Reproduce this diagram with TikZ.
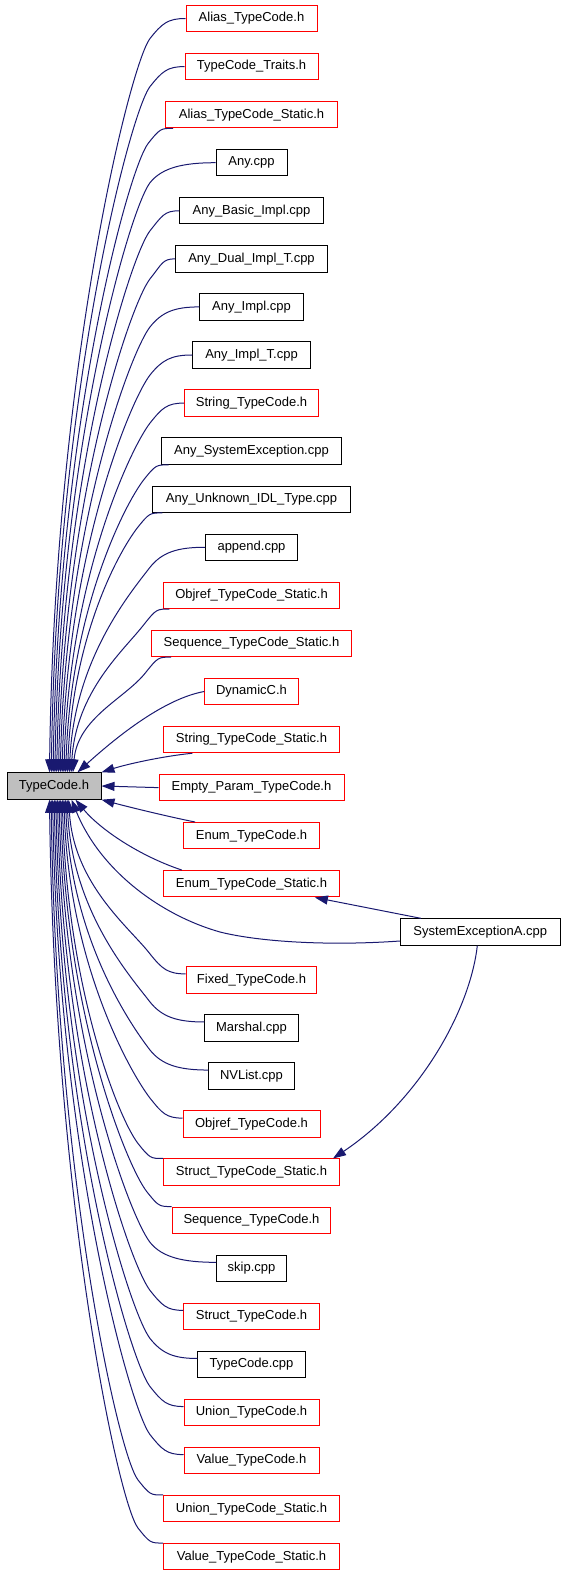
\documentclass[tikz,border=0pt]{standalone}
\usepackage{fontspec}
\setmainfont{Liberation Sans}
\usetikzlibrary{arrows.meta,calc}
\definecolor{navyc}{HTML}{191970}
\definecolor{redc}{HTML}{FF0000}
\definecolor{grayc}{HTML}{BFBFBF}
\tikzset{
 base/.style={draw, line width=1pt, minimum height=26.4pt, inner sep=0pt, font=\fontsize{13}{15}\selectfont, fill=white},
 redbox/.style={base, draw=redc},
 blkbox/.style={base, draw=black},
 dep/.style={draw=navyc, line width=1pt, -{Triangle[length=13pt,width=9pt]}},
}
\newcommand\nd[4]{\node[#3, minimum width=#2pt] (n#1) at (251.5,{18.5+48.07*#1}) {#4};}
\newcommand\tcedge[5]{%
 \draw[dep] let \p1=(#1), \p2=(#2), \p3=({#4},{\y1+(#3)*(#5)}) in
 (\p1) .. controls ({0.5*(\x1+\x3)},\y1) and ({\x3+12pt},{\y3-(#3)*15pt}) .. (\p3)
 .. controls ({\x3-20pt},{\y3+(#3)*26pt}) and ({\x2+5pt},{\y2-(#3)*0.55*abs(\y2-\y3)}) .. (\p2);}
\begin{document}
\begin{tikzpicture}[x=1pt,y=-1pt]
\useasboundingbox (0,0) rectangle (565,1573);
\node[base, fill=grayc, draw=black, minimum width=94pt] (tc) at (54,786) {TypeCode.h};
\nd{0}{131}{redbox}{Alias\_TypeCode.h}
\nd{1}{133}{redbox}{TypeCode\_Traits.h}
\nd{2}{171.6}{redbox}{Alias\_TypeCode\_Static.h}
\nd{3}{71}{blkbox}{Any.cpp}
\nd{4}{144}{blkbox}{Any\_Basic\_Impl.cpp}
\nd{5}{152}{blkbox}{Any\_Dual\_Impl\_T.cpp}
\nd{6}{103.4}{blkbox}{Any\_Impl.cpp}
\nd{7}{117.4}{blkbox}{Any\_Impl\_T.cpp}
\nd{8}{134}{redbox}{String\_TypeCode.h}
\nd{9}{180.6}{blkbox}{Any\_SystemException.cpp}
\nd{10}{197.4}{blkbox}{Any\_Unknown\_IDL\_Type.cpp}
\nd{11}{92}{blkbox}{append.cpp}
\nd{12}{175.4}{redbox}{Objref\_TypeCode\_Static.h}
\nd{13}{200}{redbox}{Sequence\_TypeCode\_Static.h}
\nd{14}{93.4}{redbox}{DynamicC.h}
\nd{15}{175.4}{redbox}{String\_TypeCode\_Static.h}
\nd{16}{185}{redbox}{Empty\_Param\_TypeCode.h}
\nd{17}{136}{redbox}{Enum\_TypeCode.h}
\nd{18}{176.3}{redbox}{Enum\_TypeCode\_Static.h}
\node[blkbox, minimum width=160pt] (n19) at (480.3,932) {SystemExceptionA.cpp};
\nd{20}{130.6}{redbox}{Fixed\_TypeCode.h}
\nd{21}{93.4}{blkbox}{Marshal.cpp}
\nd{22}{85.4}{blkbox}{NVList.cpp}
\nd{23}{137}{redbox}{Objref\_TypeCode.h}
\nd{24}{176}{redbox}{Struct\_TypeCode\_Static.h}
\nd{25}{158.6}{redbox}{Sequence\_TypeCode.h}
\nd{26}{70}{blkbox}{skip.cpp}
\nd{27}{135.4}{redbox}{Struct\_TypeCode.h}
\nd{28}{107.4}{blkbox}{TypeCode.cpp}
\nd{29}{135}{redbox}{Union\_TypeCode.h}
\nd{30}{135}{redbox}{Value\_TypeCode.h}
\nd{31}{176}{redbox}{Union\_TypeCode\_Static.h}
\nd{32}{176}{redbox}{Value\_TypeCode\_Static.h}
% upper edges
\tcedge{n0.west}{[xshift=43pt]tc.north west}{-1}{150pt}{20pt}
\tcedge{n1.west}{[xshift=44.8pt]tc.north west}{-1}{150pt}{20pt}
\tcedge{[xshift=8pt]n2.south west}{[xshift=46.6pt]tc.north west}{-1}{\x1-25pt}{15pt}
\tcedge{n3.west}{[xshift=48.4pt]tc.north west}{-1}{150pt}{20pt}
\tcedge{n4.west}{[xshift=50.2pt]tc.north west}{-1}{150pt}{20pt}
\tcedge{n5.west}{[xshift=52pt]tc.north west}{-1}{150pt}{20pt}
\tcedge{n6.west}{[xshift=53.8pt]tc.north west}{-1}{150pt}{20pt}
\tcedge{n7.west}{[xshift=55.6pt]tc.north west}{-1}{150pt}{20pt}
\tcedge{n8.west}{[xshift=57.4pt]tc.north west}{-1}{150pt}{20pt}
\tcedge{[xshift=8pt]n9.south west}{[xshift=59.2pt]tc.north west}{-1}{\x1-25pt}{15pt}
\tcedge{[xshift=10pt]n10.south west}{[xshift=61pt]tc.north west}{-1}{\x1-25pt}{15pt}
\tcedge{n11.west}{[xshift=62.8pt]tc.north west}{-1}{150pt}{20pt}
\tcedge{[xshift=6pt]n12.south west}{[xshift=64.6pt]tc.north west}{-1}{\x1-25pt}{15pt}
\tcedge{[xshift=20pt]n13.south west}{[xshift=66.4pt]tc.north west}{-1}{\x1-25pt}{15pt}
\draw[dep] (n14.west) .. controls +(-39,7) and +(42,-38) .. ([xshift=71pt]tc.north west);
\draw[dep] ([xshift=29pt]n15.south west) .. controls +(-30,3) and +(25,-8) .. (tc.north east);
\draw[dep] (n16.west) -- (tc.east);
\draw[dep] ([xshift=12pt]n17.north west) .. controls +(-25,-5) and +(30,8) .. (tc.south east);
\draw[dep] ([xshift=19pt]n18.north west) .. controls +(-42,-14) and +(25,30) .. ([xshift=69pt]tc.south west);
\draw[dep] ([yshift=-9pt]n19.west) .. controls +(-70,5) and (260,942) .. (220,932) .. controls (160,915) and (100,870) .. ([xshift=65pt]tc.south west);
\draw[dep] ([xshift=21pt]n19.north west) -- ([xshift=152pt]n18.south west);
\draw[dep] ([xshift=-3pt]n19.south) .. controls (470,1010) and (420,1100) .. ([xshift=-7pt]n24.north east);
% lower edges
\tcedge{[yshift=6pt]n20.west}{[xshift=62.2pt]tc.south west}{1}{150pt}{20pt}
\tcedge{[yshift=6pt]n21.west}{[xshift=60.6pt]tc.south west}{1}{150pt}{20pt}
\tcedge{[yshift=6pt]n22.west}{[xshift=59pt]tc.south west}{1}{150pt}{20pt}
\tcedge{[yshift=6pt]n23.west}{[xshift=57.4pt]tc.south west}{1}{150pt}{20pt}
\tcedge{n24.north west}{[xshift=55.8pt]tc.south west}{1}{\x1-25pt}{15pt}
\tcedge{n25.north west}{[xshift=54.2pt]tc.south west}{1}{\x1-25pt}{15pt}
\tcedge{[yshift=6pt]n26.west}{[xshift=52.6pt]tc.south west}{1}{150pt}{20pt}
\tcedge{[yshift=6pt]n27.west}{[xshift=51pt]tc.south west}{1}{150pt}{20pt}
\tcedge{[yshift=6pt]n28.west}{[xshift=49.4pt]tc.south west}{1}{150pt}{20pt}
\tcedge{[yshift=6pt]n29.west}{[xshift=47.8pt]tc.south west}{1}{150pt}{20pt}
\tcedge{[yshift=6pt]n30.west}{[xshift=46.2pt]tc.south west}{1}{150pt}{20pt}
\tcedge{n31.north west}{[xshift=44.6pt]tc.south west}{1}{\x1-25pt}{15pt}
\tcedge{n32.north west}{[xshift=43pt]tc.south west}{1}{\x1-25pt}{15pt}
\end{tikzpicture}
\end{document}
